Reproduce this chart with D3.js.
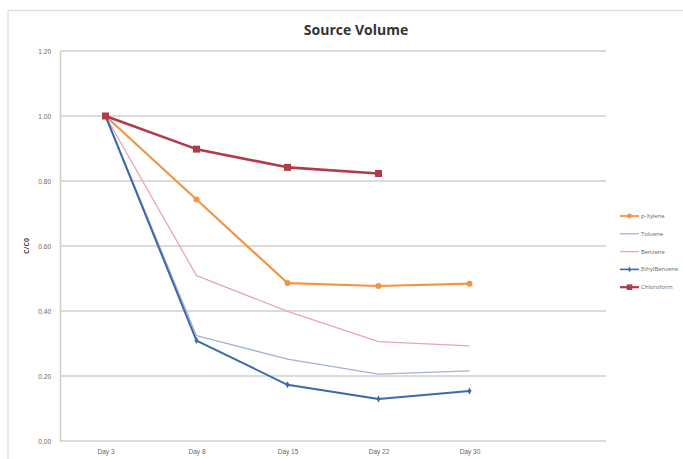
<!DOCTYPE html>
<html>
<head>
<meta charset="utf-8">
<script src="https://cdn.jsdelivr.net/npm/d3@7"></script>
<style>
  html, body { margin: 0; padding: 0; background: #fff; }
  svg { display: block; font-family: "Open Sans", "Liberation Sans", sans-serif; }
</style>
</head>
<body>
<svg id="chart" width="683" height="459"></svg>
<script>
// Sampling days (x categories)
const days = ["Day 3", "Day 8", "Day 15", "Day 22", "Day 30"];
// Y axis ticks
const yTicks = [0, 0.2, 0.4, 0.6, 0.8, 1.0, 1.2];

// Relative concentration C/C0 for each compound
const pXylene      = [1.00, 0.743, 0.486, 0.477, 0.484];
const toluene      = [1.00, 0.324, 0.252, 0.206, 0.216];
const benzene      = [1.00, 0.509, 0.399, 0.306, 0.293];
const ethylBenzene = [1.00, 0.309, 0.173, 0.129, 0.154];
const chloroform   = [1.00, 0.898, 0.842, 0.823, null];

const seriesNames = ["p-Xylene", "Toluene", "Benzene", "EthylBenzene", "Chloroform"];

const series = [
  { name: seriesNames[0], values: pXylene,      color: "#F39443", width: 2.2, marker: "circle" },
  { name: seriesNames[1], values: toluene,      color: "#A3B3D6", width: 1.3, marker: null },
  { name: seriesNames[2], values: benzene,      color: "#E8A6B0", width: 1.3, marker: null },
  { name: seriesNames[3], values: ethylBenzene, color: "#3D68B0", width: 2.0, marker: "diamond" },
  { name: seriesNames[4], values: chloroform,   color: "#B23B4A", width: 2.6, marker: "square" }
];

const svg = d3.select("#chart");

// Outer frame (top and left edges of the chart border)
svg.append("line").attr("x1", 8).attr("x2", 683).attr("y1", 10.5).attr("y2", 10.5)
  .attr("stroke", "#e2e2e2").attr("stroke-width", 1.5);
svg.append("line").attr("x1", 8).attr("x2", 8).attr("y1", 10).attr("y2", 459)
  .attr("stroke", "#e2e2e2").attr("stroke-width", 1.5);

const plot = { left: 60, right: 606, top: 51, bottom: 441 };
const bandW = (plot.right - plot.left) / 6;

const x = d3.scalePoint()
  .domain(days)
  .range([plot.left + bandW / 2, plot.left + bandW / 2 + bandW * 4]);

const y = d3.scaleLinear()
  .domain([0, 1.2])
  .range([plot.bottom, plot.top]);

// Horizontal gridlines
svg.append("g")
  .selectAll("line")
  .data(yTicks.filter(d => d > 0))
  .join("line")
  .attr("x1", plot.left).attr("x2", plot.right)
  .attr("y1", d => y(d)).attr("y2", d => y(d))
  .attr("stroke", "#cfcfcf").attr("stroke-width", 1.6);

// Y axis
const yAxis = svg.append("g")
  .attr("transform", `translate(${plot.left},0)`)
  .call(d3.axisLeft(y).tickValues(yTicks).tickFormat(d3.format(".2f")).tickSize(0).tickPadding(9));
yAxis.select(".domain").attr("stroke", "#cfcfcf").attr("stroke-width", 1.6);
yAxis.selectAll("text").attr("font-size", 6.5).attr("fill", "#666");

// X axis
const xAxis = svg.append("g")
  .attr("transform", `translate(0,${plot.bottom})`)
  .call(d3.axisBottom(x).tickSize(0).tickPadding(8));
xAxis.select(".domain").remove();
svg.append("line")
  .attr("x1", plot.left).attr("x2", plot.right)
  .attr("y1", plot.bottom).attr("y2", plot.bottom)
  .attr("stroke", "#cfcfcf").attr("stroke-width", 1.6);
xAxis.selectAll("text").attr("font-size", 6.5).attr("fill", "#666");

// Title
svg.append("text")
  .attr("x", 356).attr("y", 35)
  .attr("text-anchor", "middle")
  .attr("font-size", 14).attr("font-weight", "bold").attr("fill", "#333")
  .text("Source Volume");

// Y axis title
svg.append("text")
  .attr("transform", "translate(29,246) rotate(-90)")
  .attr("text-anchor", "middle")
  .attr("font-size", 7).attr("font-weight", "bold").attr("fill", "#444")
  .text("C/C0");

const line = d3.line()
  .defined(d => d.v !== null)
  .x(d => x(d.day))
  .y(d => y(d.v));

function drawMarker(g, type, color, cx, cy, scale = 1) {
  if (type === "circle") {
    g.append("circle").attr("cx", cx).attr("cy", cy).attr("r", 3 * scale).attr("fill", color);
  } else if (type === "square") {
    const s = 7 * scale;
    g.append("rect").attr("x", cx - s / 2).attr("y", cy - s / 2).attr("width", s).attr("height", s).attr("fill", color);
  } else if (type === "diamond") {
    g.append("path")
      .attr("d", d3.symbol().type(d3.symbolDiamond).size(14 * scale * scale)())
      .attr("transform", `translate(${cx},${cy})`)
      .attr("fill", color);
  }
}

const linesG = svg.append("g");
series.forEach(s => {
  const pts = days.map((day, i) => ({ day, v: s.values[i] }));
  const g = linesG.append("g");
  g.append("path")
    .datum(pts)
    .attr("d", line)
    .attr("fill", "none")
    .attr("stroke", s.color)
    .attr("stroke-width", s.width)
    .attr("stroke-linejoin", "round");
  if (s.marker) {
    pts.filter(p => p.v !== null).forEach(p => drawMarker(g, s.marker, s.color, x(p.day), y(p.v)));
  }
});

// Legend
const legend = svg.append("g");
series.forEach((s, i) => {
  const ly = 216 + i * 17.8;
  legend.append("line")
    .attr("x1", 620).attr("x2", 639).attr("y1", ly).attr("y2", ly)
    .attr("stroke", s.color).attr("stroke-width", Math.max(1.3, s.width - 0.4));
  if (s.marker) drawMarker(legend, s.marker, s.color, 629.5, ly, 0.8);
  legend.append("text")
    .attr("x", 641).attr("y", ly).attr("dy", "0.35em")
    .attr("font-size", 5.9).attr("fill", "#666")
    .text(s.name);
});
</script>
</body>
</html>
